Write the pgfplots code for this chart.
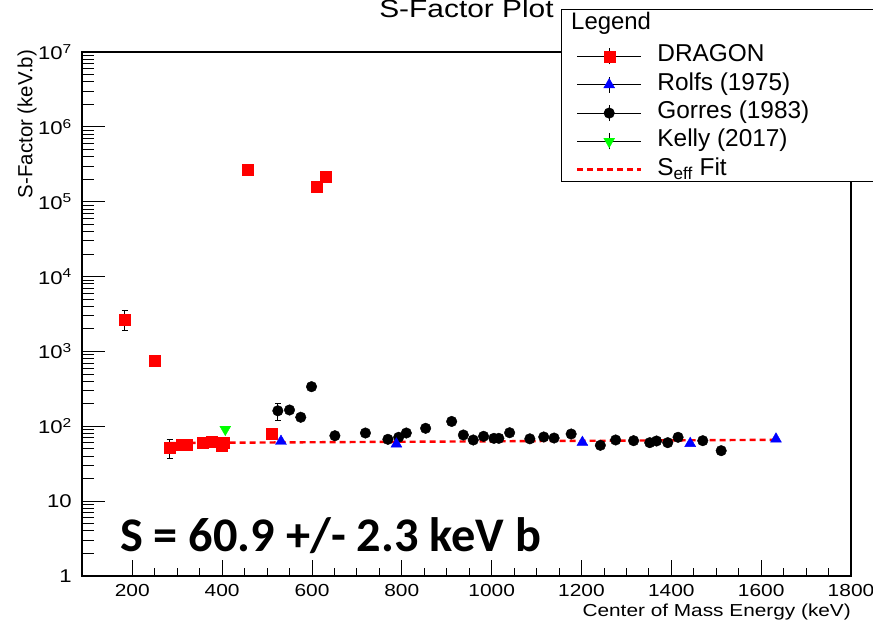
\documentclass[border=0pt]{standalone}
\usepackage{fontspec}
\usepackage{pgfplots}
\pgfplotsset{compat=1.18}
\setmainfont{Liberation Sans}
\newfontfamily\sfst{Liberation Sans}[FakeStretch=1.2]
\newfontfamily\calb{Carlito}

\pgfplotsset{
 rootleg/.style={legend image code/.code={
   \draw[black,line width=0.7pt,solid] (0bp,0bp)--(64bp,0bp);
   \draw[black,line width=0.7pt,solid] (32bp,-8bp)--(32bp,8bp);
   \path[only marks] plot coordinates {(32bp,0bp)};
 }},
}

\begin{document}
\begin{tikzpicture}
\path[use as bounding box] (-82bp,-46bp) rectangle (791bp,576bp);
\begin{axis}[
  scale only axis,
  width=769bp, height=524bp,
  at={(0,0)}, anchor=south west,
  clip=false,
  xmin=88, xmax=1800,
  ymin=1, ymax=1e7,
  ymode=log,
  axis line style={line width=1.2bp},
  xtick={200,400,...,1800},
  xticklabels={200,400,600,800,1000,1200,1400,1600,1800},
  minor x tick num=3,
  ytick={1,10,100,1000,10000,100000,1000000,10000000},
  yticklabels={1,10,10\textsuperscript{2},10\textsuperscript{3},10\textsuperscript{4},10\textsuperscript{5},10\textsuperscript{6},10\textsuperscript{7}},
  tick align=inside,
  tick pos=left,
  major tick length=16bp,
  minor tick length=8bp,
  y tick style={/pgfplots/major tick length=23bp,/pgfplots/minor tick length=12bp},
  tick style={black, line width=0.9bp},
  xticklabel style={font=\sfst\fontsize{17.5}{19}\selectfont, inner sep=0pt, yshift=-8bp},
  yticklabel style={font=\sfst\fontsize{18.5}{20}\selectfont, inner sep=0pt, xshift=-10bp},
  xlabel={Center of Mass Energy (keV)},
  xlabel style={at={(axis description cs:1,-0.0782)}, anchor=base east, inner sep=0pt, font=\sfst\fontsize{17.4}{19}\selectfont},
  ylabel={S-Factor (keV.b)},
  ylabel style={at={(axis description cs:-0.0715,1.004)}, anchor=east, inner sep=0pt, font=\fontsize{20.5}{22}\selectfont},
  legend style={at={(axis description cs:0.6424,1.0134)}, anchor=north west, draw=none, fill=none,
    inner sep=0pt, outer sep=0pt, row sep=5.3bp, column sep=15bp,
    font=\fontsize{24.5}{26}\selectfont,
    nodes={inner sep=0pt, text height=17bp, text depth=6bp}},
  legend cell align=left,
]
% title and legend frame
\node[anchor=base, inner sep=0pt, font=\sfst\fontsize{25}{27}\selectfont] at (axis description cs:0.5,1.0649) {S-Factor Plot};
\draw[fill=white, line width=1bp] (axis description cs:0.6229,0.7519) rectangle (axis description cs:1.05,1.0802);
\node[anchor=base west, inner sep=0pt, font=\fontsize{24}{26}\selectfont] at (axis description cs:0.6359,1.042) {Legend};

\addlegendimage{rootleg, mark=square*, mark options={draw=red, fill=red, solid}, mark size=5.5bp}
\addlegendentry{DRAGON}
\addlegendimage{rootleg, mark=triangle*, mark options={draw=blue, fill=blue, solid}, mark size=6.3bp}
\addlegendentry{Rolfs (1975)}
\addlegendimage{rootleg, mark=*, mark options={draw=black, fill=black, solid}, mark size=5.3bp}
\addlegendentry{Gorres (1983)}
\addlegendimage{rootleg, mark=triangle*, mark options={draw=green, fill=green, solid, rotate=180}, mark size=6.3bp}
\addlegendentry{Kelly (2017)}
\addlegendimage{legend image code/.code={\draw[red, dash pattern=on 6bp off 4bp, line width=2.4bp] (0bp,0bp)--(64bp,0bp);}}
\addlegendentry{S\textsubscript{eff} Fit}

% fit
\addplot[forget plot, red, line width=2.4bp, dash pattern=on 6bp off 4bp] coordinates {(283,59.8) (1640,66)};

% error bars
\addplot[forget plot, only marks, mark=none, black,
  error bars/.cd, y dir=both, y explicit,
  error mark=-,
  error bar style={black, line width=0.9bp},
  error mark options={black, mark size=3bp, line width=0.9bp, rotate=90}]
  table[x=x, y=y, y error plus=ep, y error minus=em] {
x y ep em
183 2686 854 753
283 51.7 14.3 14.4
524 161 38 40
};

% Gorres
\addplot[forget plot, only marks, mark=*, mark size=5.3bp, mark options={draw=black, fill=black}] table {
524 161
550 165
575 132
599 338
651 74.8
719 81.3
769 67
793 71.3
810 81.3
853 94
911 116
937 76.5
959 65.6
982 73.5
1005 69
1016 69
1040 82
1085 68
1116 72
1139 69.7
1177 78.9
1242 55.7
1276 65.6
1316 64.2
1352 60.4
1367 63.6
1392 60.4
1415 71.3
1470 64.2
1511 47.2
};

% DRAGON
\addplot[forget plot, only marks, mark=square*, mark size=5.5bp, mark options={draw=red, fill=red}] table {
183 2686
250 751
283 51.7
309 56.2
320 57.5
356 60.4
377 62.2
398 55
404 60
458 268000
511 78.9
611 157000
631 214000
};

% Rolfs
\addplot[forget plot, only marks, mark=triangle*, mark size=6.3bp, mark options={draw=blue, fill=blue}] table {
531 63
788 58
1202 61
1442 59
1633 67.6
};

% Kelly
\addplot[forget plot, only marks, mark=triangle*, mark size=6.3bp, mark options={draw=green, fill=green, rotate=180}] table {
407 91
};

\node[anchor=base west, inner sep=0pt, font=\calb\bfseries\fontsize{48.5}{50}\selectfont] at (axis description cs:0.0494,0.0458) {S = 60.9 +/- 2.3 keV b};
\end{axis}
\end{tikzpicture}
\end{document}
